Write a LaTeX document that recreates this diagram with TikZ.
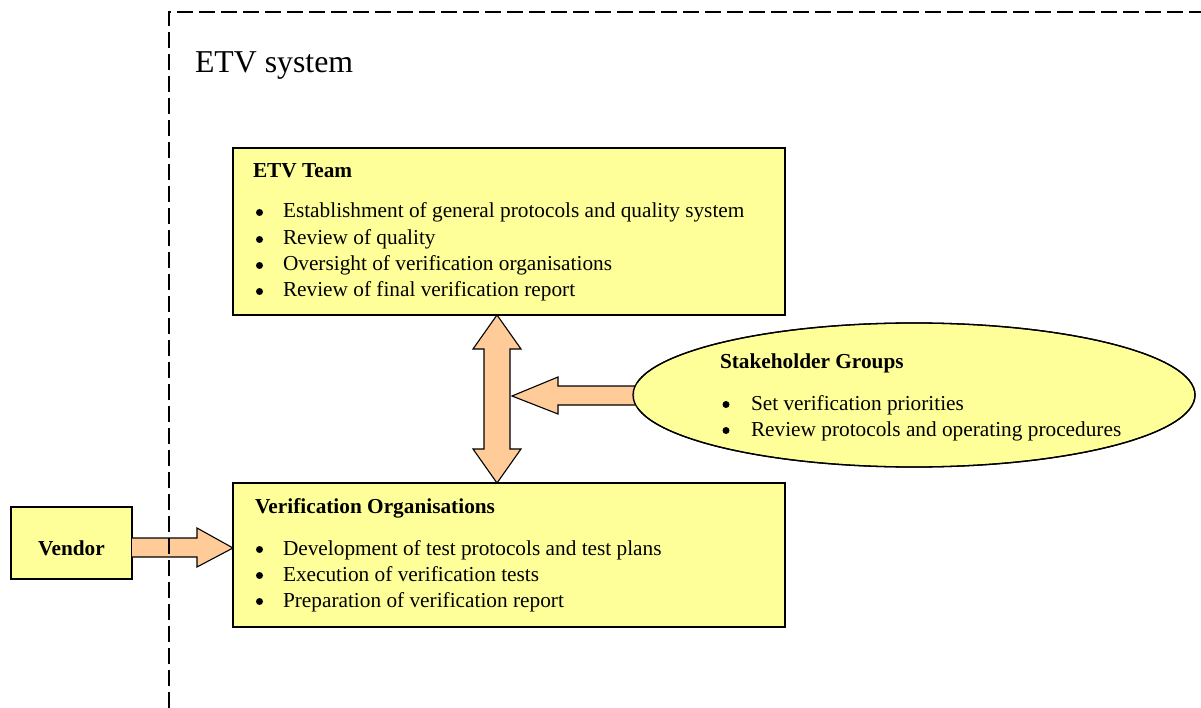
\documentclass[tikz,border=0pt]{standalone}
\usepackage{fontspec}
\setmainfont{Liberation Serif}
\usetikzlibrary{shapes.geometric,calc}
\definecolor{boxyellow}{HTML}{FFFF99}
\definecolor{arrowpeach}{HTML}{FFCC99}
\tikzset{
  boxshape/.style={draw=black, fill=boxyellow, line width=1.3pt, inner sep=0pt, outer sep=0pt, anchor=north west},
  blockarrow/.style={draw=black, fill=arrowpeach, line width=1.1pt, line join=miter},
  txt/.style={inner sep=0pt, outer sep=0pt, anchor=base west, font=\fontsize{21.3}{26}\selectfont},
  ttl/.style={txt, font=\fontsize{21.3}{26}\selectfont\bfseries},
  bul/.style={circle, fill=black, inner sep=0pt, outer sep=0pt, minimum size=7pt},
  sysline/.style={draw=black, line width=1.4pt, dash pattern=on 16pt off 6pt}
}
\begin{document}
\begin{tikzpicture}[x=1pt,y=-1pt]
\useasboundingbox (0,0) rectangle (1201,708);
% boxes
\node[boxshape, minimum width=552pt, minimum height=167pt] (etv) at (233,148) {};
\node[boxshape, minimum width=552pt, minimum height=144pt] (vo) at (233,483) {};
\node[boxshape, minimum width=121pt, minimum height=72pt] (vendor) at (11,507) {};
% vertical double arrow between ETV team and verification organisations
\path[blockarrow] (497,0 |- etv.south) -- (521,349) -- (510,349) -- (510,449) -- (521,449)
   -- (497,0 |- vo.north) -- (473,449) -- (484,449) -- (484,349) -- (473,349) -- cycle;
% stakeholder ellipse
\node[ellipse, draw=black, fill=boxyellow, line width=1.3pt, inner sep=0pt, outer sep=0pt,
      minimum width=562pt, minimum height=144pt] (sg) at (914,395) {};
% stakeholder arrow
\path[blockarrow] ($(sg.west)+(20,-9)$) -- (558,386) -- (558,377) -- (512,396) -- (558,414)
   -- (558,405) -- ($(sg.west)+(20,10)$);
\fill[boxyellow] ($(sg.west)+(1.5,-12)$) rectangle ($(sg.west)+(21,13)$);
\node[ellipse, draw=black, line width=1.3pt, inner sep=0pt, outer sep=0pt,
      minimum width=562pt, minimum height=144pt] (sgoutline) at (sg.center) {};
% vendor arrow
\path[blockarrow] (vendor.east |- 0,538) -- (197,538) -- (197,528) -- (vo.west |- 0,548)
   -- (197,567) -- (197,557) -- (vendor.east |- 0,557);
% system boundary
\draw[sysline] (169,708) -- (169,12) -- (1201,12);
\node[txt, font=\fontsize{31.8}{36}\selectfont] (systitle) at (195,73) {ETV system};
% ETV Team text
\node[ttl] (etvt) at (253,178) {ETV Team};
\foreach \y/\t [count=\i] in {218/Establishment of general protocols and quality system,
   245/Review of quality, 271/Oversight of verification organisations, 297/Review of final verification report}{
  \node[bul] (etvb\i) at (259.5,\y-5.5) {};
  \node[txt] (etvl\i) at (283,\y) {\t};
}
% Verification organisations text
\node[ttl] (vot) at (255,513) {Verification Organisations};
\foreach \y/\t [count=\i] in {555/Development of test protocols and test plans,
   581/Execution of verification tests, 607/Preparation of verification report}{
  \node[bul] (vob\i) at (259.5,\y-5.5) {};
  \node[txt] (vol\i) at (283,\y) {\t};
}
% Stakeholder text
\node[ttl] (sgt) at (720,368) {Stakeholder Groups};
\foreach \y/\t [count=\i] in {410/Set verification priorities, 436/Review protocols and operating procedures}{
  \node[bul] (sgb\i) at (726,\y-5.5) {};
  \node[txt] (sgl\i) at (751,\y) {\t};
}
% Vendor text
\node[inner sep=0pt, anchor=base, font=\fontsize{21.3}{26}\selectfont\bfseries] (vendort) at (vendor.center |- 0,555) {Vendor};
\end{tikzpicture}
\end{document}
